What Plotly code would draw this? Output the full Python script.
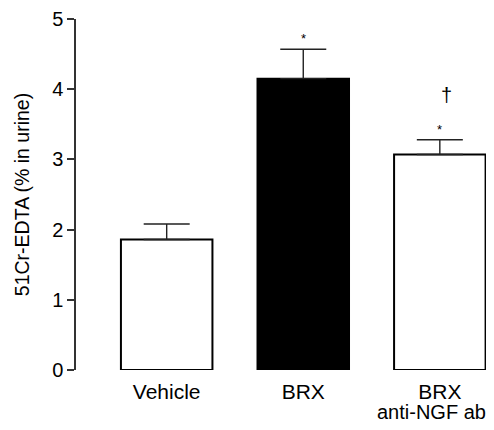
import plotly.graph_objects as go

categories = ["Vehicle", "BRX", "BRX"]
sublabels = ["", "", "anti-NGF ab"]
values = [1.86, 4.15, 3.07]
errors = [0.22, 0.42, 0.21]
fills = ["white", "black", "white"]
star_marks = ["", "*", "*"]
dagger_marks = ["", "", "†"]
y_ticks = [0, 1, 2, 3, 4, 5]

xpos = list(range(len(categories)))
FONT = "Liberation Sans, Arial, Helvetica, sans-serif"

fig = go.Figure()
fig.add_trace(go.Bar(
    x=xpos, y=values, width=0.67,
    marker=dict(color=fills, line=dict(color="black", width=2)),
    error_y=dict(type="data", array=errors, symmetric=False, arrayminus=[0]*3,
                 color="#222", thickness=1.4, width=23),
    showlegend=False,
))

for i, (v, e, s, d) in enumerate(zip(values, errors, star_marks, dagger_marks)):
    if s:
        fig.add_annotation(x=i, y=v + e, text=s, showarrow=False, yanchor="bottom",
                           yshift=1, font=dict(size=13, color="black", family=FONT))
    if d:
        fig.add_annotation(x=i, y=v + e, text=d, showarrow=False, yanchor="bottom",
                           xshift=7, yshift=32, font=dict(size=20, color="black", family=FONT))
for i, sl in enumerate(sublabels):
    if sl:
        fig.add_annotation(x=i, y=0, yref="paper", text=sl, showarrow=False,
                           yanchor="top", xshift=-8, yshift=-29,
                           font=dict(size=20, color="black", family=FONT))

# the page body adds an 8px offset, so the figure is sized 8px smaller
fig.update_layout(
    width=486, height=422,
    margin=dict(l=68, r=5, t=11, b=60, autoexpand=False),
    plot_bgcolor="white", paper_bgcolor="white",
    font=dict(family=FONT, size=20, color="black"),
    xaxis=dict(range=[-0.664, 2.36], tickvals=xpos, ticktext=categories,
               showline=False, showgrid=False, zeroline=False, ticks="",
               ticklabelstandoff=7,
               tickfont=dict(size=21), automargin=False),
    yaxis=dict(range=[0, 5], tickvals=y_ticks, showline=True, linecolor="#333",
               linewidth=1.5, ticks="outside", ticklen=7, tickwidth=1.5, tickcolor="#333",
               showgrid=False, zeroline=False, tickfont=dict(size=20), automargin=False,
               title=dict(text="51Cr-EDTA (% in urine)", font=dict(size=19.5), standoff=17)),
)

fig.write_html("out.html")
